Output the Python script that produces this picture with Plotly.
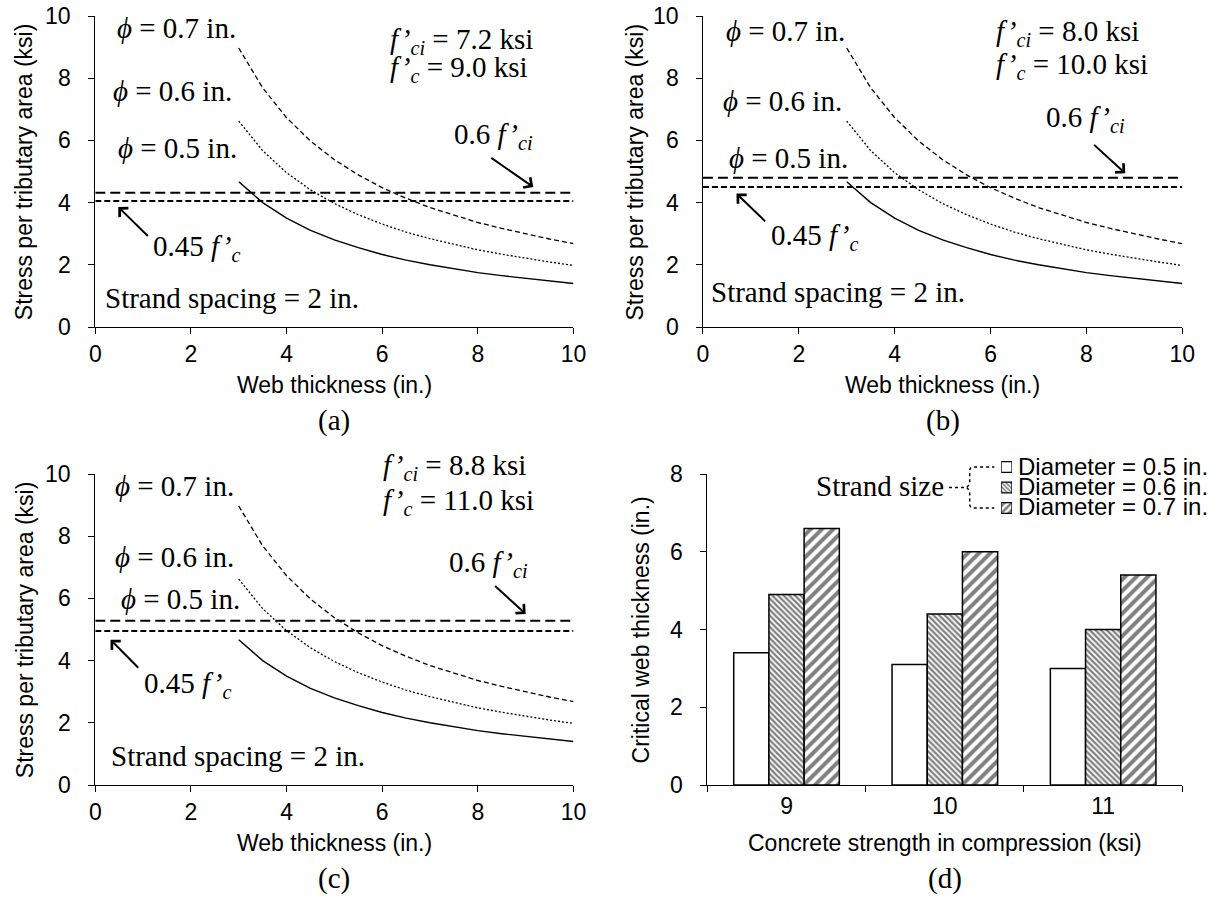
import plotly.graph_objects as go

# ---------------- data ----------------
web_thickness = [3.0, 3.5, 4.0, 4.5, 5.0, 5.5, 6.0, 6.5, 7.0, 7.5, 8.0, 8.5, 9.0, 9.5, 10.0]
stress_d05 = [4.67, 4.00, 3.50, 3.11, 2.80, 2.55, 2.33, 2.15, 2.00, 1.87, 1.75, 1.65, 1.56, 1.47, 1.40]
stress_d06 = [6.62, 5.67, 4.96, 4.41, 3.97, 3.61, 3.31, 3.05, 2.84, 2.65, 2.48, 2.34, 2.21, 2.09, 1.98]
stress_d07 = [8.97, 7.69, 6.73, 5.98, 5.38, 4.89, 4.48, 4.14, 3.84, 3.59, 3.36, 3.17, 2.99, 2.83, 2.68]

fci_labels = ["7.2", "8.0", "8.8"]
fc_labels = ["9.0", "10.0", "11.0"]
limit_06fci = [4.32, 4.80, 5.28]
limit_045fc = [4.05, 4.50, 4.95]
limit_x = [0, 10]

stress_ticks = [0, 2, 4, 6, 8, 10]
critical_ticks = [0, 2, 4, 6, 8]

strength_categories = ["9", "10", "11"]
critical_d05 = [3.4, 3.1, 3.0]
critical_d06 = [4.9, 4.4, 4.0]
critical_d07 = [6.6, 6.0, 5.4]
legend_labels = ["Diameter = 0.5 in.", "Diameter = 0.6 in.", "Diameter = 0.7 in."]
panel_labels = ["(a)", "(b)", "(c)", "(d)"]

# ---------------- layout helpers ----------------
W, H = 1215, 898
SANS = "Liberation Sans, Arial, sans-serif"
SERIF = "Liberation Serif, Times New Roman, serif"
SERIF_SIZE = 29
SANS_SIZE = 23


def fx(px):
    return px / W


def fy(py):
    return 1 - py / H


areas = {
    1: (90.7, 576.5, 16, 327),
    2: (708, 1195, 16, 327),
    3: (90.7, 576.5, 474, 785),
    4: (712.5, 1195, 474, 785),
}


def data_to_px(k, x, y, ymax=10.0):
    l, r, t, b = areas[k]
    return l + (r - l) * x / 10.0, b - (b - t) * y / ymax


fig = go.Figure()

axis_common = dict(
    showline=True, linecolor="black", linewidth=1.3,
    ticks="outside", ticklen=6, tickwidth=1.3, tickcolor="black",
    showgrid=False, zeroline=False,
    tickfont=dict(family=SANS, size=SANS_SIZE, color="black"),
)

annotations = []
shapes = []

layout_axes = {}
for k in (1, 2, 3, 4):
    l, r, t, b = areas[k]
    xname = "xaxis" if k == 1 else f"xaxis{k}"
    yname = "yaxis" if k == 1 else f"yaxis{k}"
    xs = "x" if k == 1 else f"x{k}"
    ys = "y" if k == 1 else f"y{k}"
    ticks = stress_ticks if k < 4 else critical_ticks
    if k < 4:
        layout_axes[xname] = dict(axis_common, domain=[fx(l), fx(r)], range=[0, 10], dtick=2,
                                  anchor=ys, ticklabelstandoff=0)
    else:
        layout_axes[xname] = dict(axis_common, domain=[fx(l), fx(r)], type="category",
                                  tickson="boundaries", anchor=ys, ticklabelstandoff=0)
    layout_axes[yname] = dict(axis_common, domain=[fy(b), fy(t)], range=[ticks[0], ticks[-1]],
                              tickvals=ticks, showticklabels=False, anchor=xs)
    # y tick labels placed at the axis' own tick values, set off from the axis line
    for v in ticks:
        annotations.append(dict(text=str(v), x=fx(l - 22.5), y=v, xref="paper", yref=ys,
                                xanchor="right", yanchor="middle", showarrow=False,
                                font=dict(family=SANS, size=SANS_SIZE, color="black")))

sw_l, sw_r = 1011, 1022
row_y = [467, 487.5, 508]
row_step = 20.5
layout_axes["xaxis5"] = dict(domain=[fx(sw_l), fx(sw_r)], range=[0, 1], visible=False,
                             anchor="y5", fixedrange=True)
layout_axes["yaxis5"] = dict(domain=[fy(row_y[2] + row_step / 2), fy(row_y[0] - row_step / 2)],
                             range=[2.5, -0.5], visible=False, anchor="x5", fixedrange=True)

panel_text_pos = [
    dict(p7=(2.98, 9.5), p6=(2.9, 7.46), p5=(3.0, 5.63), fci=(6.13, 9.07), fc=(6.13, 8.2),
         l06=(7.46, 6.0), a06=((8.25, 5.47), (9.16, 4.5)), l045=(1.17, 2.47),
         a045=((1.13, 2.88), (0.48, 3.86)), sp=(0.17, 0.86)),
    dict(p7=(3.0, 9.39), p6=(2.94, 7.14), p5=(3.06, 5.31), fci=(6.07, 9.33), fc=(6.07, 8.3),
         l06=(7.12, 6.55), a06=((8.13, 5.9), (8.81, 4.94)), l045=(1.37, 2.84),
         a045=((1.33, 3.35), (0.7, 4.29)), sp=(0.12, 1.07)),
    dict(p7=(2.94, 9.5), p6=(2.94, 7.19), p5=(3.06, 5.85), fci=(5.97, 10.09), fc=(5.97, 9.0),
         l06=(7.35, 6.97), a06=((8.33, 6.44), (9.0, 5.5)), l045=(0.97, 3.16),
         a045=((0.93, 3.72), (0.32, 4.67)), sp=(0.28, 0.86)),
]

sfont = dict(family=SERIF, size=SERIF_SIZE, color="black")
for i in range(3):
    k = i + 1
    xs = "x" if k == 1 else f"x{k}"
    ys = "y" if k == 1 else f"y{k}"
    fig.add_trace(go.Scatter(x=web_thickness, y=stress_d07, mode="lines",
                             line=dict(color="black", width=1.3, dash="5px,3px"),
                             xaxis=xs, yaxis=ys, hoverinfo="skip"))
    fig.add_trace(go.Scatter(x=web_thickness, y=stress_d06, mode="lines",
                             line=dict(color="black", width=1.3, dash="2px,2px"),
                             xaxis=xs, yaxis=ys, hoverinfo="skip"))
    fig.add_trace(go.Scatter(x=web_thickness, y=stress_d05, mode="lines",
                             line=dict(color="black", width=1.4),
                             xaxis=xs, yaxis=ys, hoverinfo="skip"))
    fig.add_trace(go.Scatter(x=limit_x, y=[limit_06fci[i]] * 2, mode="lines",
                             line=dict(color="black", width=2, dash="10px,5px"),
                             xaxis=xs, yaxis=ys, hoverinfo="skip"))
    fig.add_trace(go.Scatter(x=limit_x, y=[limit_045fc[i]] * 2, mode="lines",
                             line=dict(color="black", width=2, dash="6px,3px"),
                             xaxis=xs, yaxis=ys, hoverinfo="skip"))

    pos = panel_text_pos[i]

    def txt(text, xy, anchor="left", dy=0.0):
        px, py = data_to_px(k, xy[0], xy[1])
        annotations.append(dict(text=text, x=fx(px), y=fy(py + dy), xref="paper", yref="paper",
                                xanchor=anchor, yanchor="middle", showarrow=False,
                                font=sfont))

    def arrow(tail, head):
        annotations.append(dict(text="", x=head[0], y=head[1], ax=tail[0], ay=tail[1],
                                xref=xs, yref=ys, axref=xs, ayref=ys, showarrow=True,
                                arrowhead=4, arrowsize=1.2, arrowwidth=2, arrowcolor="black",
                                standoff=0, startstandoff=0))

    txt("<i>ϕ</i> = 0.7 in.", pos["p7"], "right", -4)
    txt("<i>ϕ</i> = 0.6 in.", pos["p6"], "right", -4)
    txt("<i>ϕ</i> = 0.5 in.", pos["p5"], "right", -4)
    txt("<i>f’</i><sub><i>ci</i></sub> = " + fci_labels[i] + " ksi", pos["fci"], dy=-4)
    txt("<i>f’</i><sub><i>c</i></sub> = " + fc_labels[i] + " ksi", pos["fc"], dy=-3)
    txt("0.6 <i>f’</i><sub><i>ci</i></sub>", pos["l06"], dy=-4)
    arrow(*pos["a06"])
    txt("0.45 <i>f’</i><sub><i>c</i></sub>", pos["l045"], dy=-2)
    arrow(*pos["a045"])
    txt("Strand spacing = 2 in.", pos["sp"], dy=-2)

fig.add_trace(go.Bar(x=strength_categories, y=critical_d05, name=legend_labels[0],
                     marker=dict(color="white", line=dict(color="black", width=1.5)),
                     xaxis="x4", yaxis="y4", hoverinfo="skip"))
fig.add_trace(go.Bar(x=strength_categories, y=critical_d06, name=legend_labels[1],
                     marker=dict(color="white", line=dict(color="black", width=1.5),
                                 pattern=dict(shape="\\", size=4, solidity=0.55,
                                              fgcolor="black", bgcolor="white")),
                     xaxis="x4", yaxis="y4", hoverinfo="skip"))
fig.add_trace(go.Bar(x=strength_categories, y=critical_d07, name=legend_labels[2],
                     marker=dict(color="white", line=dict(color="black", width=1.5),
                                 pattern=dict(shape="/", size=8, solidity=0.5,
                                              fgcolor="black", bgcolor="white")),
                     xaxis="x4", yaxis="y4", hoverinfo="skip"))

fig.add_trace(go.Bar(x=[1, 1, 1], y=[0, 1, 2], orientation="h", width=0.52,
                     marker=dict(color="white", line=dict(color="black", width=1.3),
                                 pattern=dict(shape=["", "\\", "/"], size=[3, 3, 5],
                                              solidity=[0.3, 0.5, 0.5],
                                              fgcolor="black", bgcolor="white")),
                     xaxis="x5", yaxis="y5", hoverinfo="skip"))

for j, lab in enumerate(legend_labels):
    annotations.append(dict(text=lab, x=fx(1026), y=fy(row_y[j] - 1), xref="paper", yref="paper",
                            xanchor="left", yanchor="middle", showarrow=False,
                            font=dict(family=SANS, size=24, color="black")))

annotations.append(dict(text="Strand size", x=fx(955), y=fy(487.5 - 2), xref="paper", yref="paper",
                        xanchor="right", yanchor="middle", showarrow=False,
                        font=dict(family=SERIF, size=SERIF_SIZE, color="black")))

bx = 979
path = (f"M {fx(958)},{fy(487.5)} L {fx(bx - 3)},{fy(487.5)} "
        f"L {fx(bx)},{fy(484)} L {fx(bx)},{fy(471)} Q {fx(bx)},{fy(467)} {fx(bx + 4)},{fy(467)} "
        f"L {fx(1004)},{fy(467)} "
        f"M {fx(bx - 3)},{fy(487.5)} L {fx(bx)},{fy(491)} L {fx(bx)},{fy(504)} "
        f"Q {fx(bx)},{fy(508)} {fx(bx + 4)},{fy(508)} L {fx(1004)},{fy(508)}")
shapes.append(dict(type="path", path=path, xref="paper", yref="paper",
                   line=dict(color="black", width=1.5, dash="dot")))

title_font = dict(family=SANS, size=SANS_SIZE, color="black")
for k in (1, 2, 3, 4):
    l, r, t, b = areas[k]
    cx = (l + r) / 2
    xtitle = "Web thickness (in.)" if k < 4 else "Concrete strength in compression (ksi)"
    ytitle = "Stress per tributary area (ksi)" if k < 4 else "Critical web thickness (in.)"
    annotations.append(dict(text=xtitle, x=fx(cx), y=fy(b + 58), xref="paper", yref="paper",
                            xanchor="center", yanchor="middle", showarrow=False, font=title_font))
    ytx = {1: 19, 2: 640, 3: 19, 4: 645}[k]
    annotations.append(dict(text=ytitle, x=fx(ytx), y=fy((t + b) / 2), xref="paper", yref="paper",
                            xanchor="center", yanchor="middle", showarrow=False, textangle=-90,
                            font=title_font))
    annotations.append(dict(text=panel_labels[k - 1], x=fx(cx), y=fy(b + 93), xref="paper",
                            yref="paper", xanchor="center", yanchor="middle", showarrow=False,
                            font=dict(family=SERIF, size=SERIF_SIZE, color="black")))

fig.update_layout(
    width=W, height=H, autosize=False,
    margin=dict(l=0, r=0, t=0, b=0),
    paper_bgcolor="white", plot_bgcolor="white",
    showlegend=False,
    barmode="group", bargap=0.333, bargroupgap=0,
    annotations=annotations, shapes=shapes,
    **layout_axes,
)

fig.write_html("out.html")
